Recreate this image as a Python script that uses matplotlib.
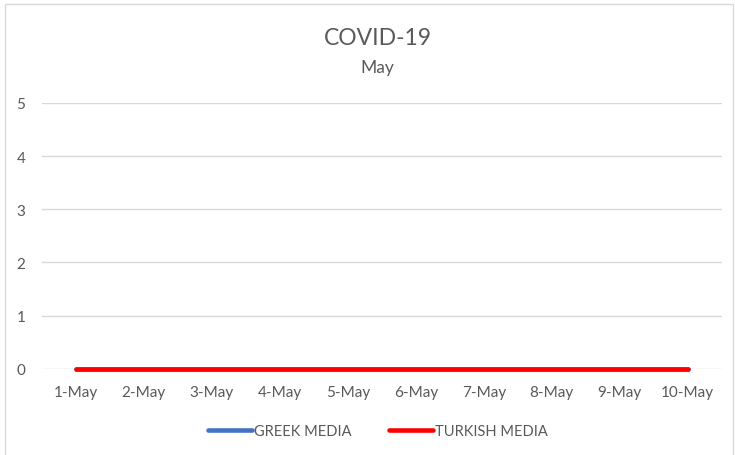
import matplotlib
matplotlib.use("Agg")
import matplotlib.pyplot as plt
from matplotlib.patches import Rectangle

days = ['1-May', '2-May', '3-May', '4-May', '5-May', '6-May', '7-May', '8-May', '9-May', '10-May']
greek_media = [0, 0, 0, 0, 0, 0, 0, 0, 0, 0]
turkish_media = [0, 0, 0, 0, 0, 0, 0, 0, 0, 0]

plt.rcParams['font.family'] = ['Lato', 'DejaVu Sans']
txt_col = '#595959'

fig = plt.figure(figsize=(7.35, 4.56), dpi=100)
ax = fig.add_axes([0.057, 0.189, 0.925, 0.583])

x = range(len(days))
# both series sit on zero, red draws over blue
ax.plot(x, greek_media, color='#4472c4', lw=3.3, solid_capstyle='round', label='GREEK MEDIA', clip_on=False)
ax.plot(x, turkish_media, color='#ff0000', lw=3.3, solid_capstyle='round', label='TURKISH MEDIA', clip_on=False)

ax.set_xlim(-0.5, len(days) - 0.5)
ax.set_ylim(0, 5)
ax.set_yticks(range(0, 6))
ax.set_xticks(list(x))
ax.set_xticklabels(days)
ax.tick_params(colors=txt_col, labelsize=11, length=0, pad=12)
ax.tick_params(axis='y', pad=12)
ax.grid(axis='y', color='#d9d9d9', lw=1)
ax.set_axisbelow(True)
for s in ax.spines.values():
    s.set_visible(False)

fig.text(0.514, 0.915, 'COVID-19', ha='center', va='center', fontsize=16.5, color=txt_col)
fig.text(0.514, 0.851, 'May', ha='center', va='center', fontsize=12.5, color=txt_col)

leg = fig.legend(loc='center', bbox_to_anchor=(0.514, 0.052), ncol=2, frameon=False,
                 fontsize=10.5, handlelength=3.0, handletextpad=0.15, columnspacing=2.6)
for t in leg.get_texts():
    t.set_color(txt_col)

fig.patches.append(Rectangle((0.007, -0.01), 0.99, 0.998, transform=fig.transFigure,
                             fill=False, edgecolor='#d9d9d9', lw=1))

fig.savefig('out.png', dpi=100)
